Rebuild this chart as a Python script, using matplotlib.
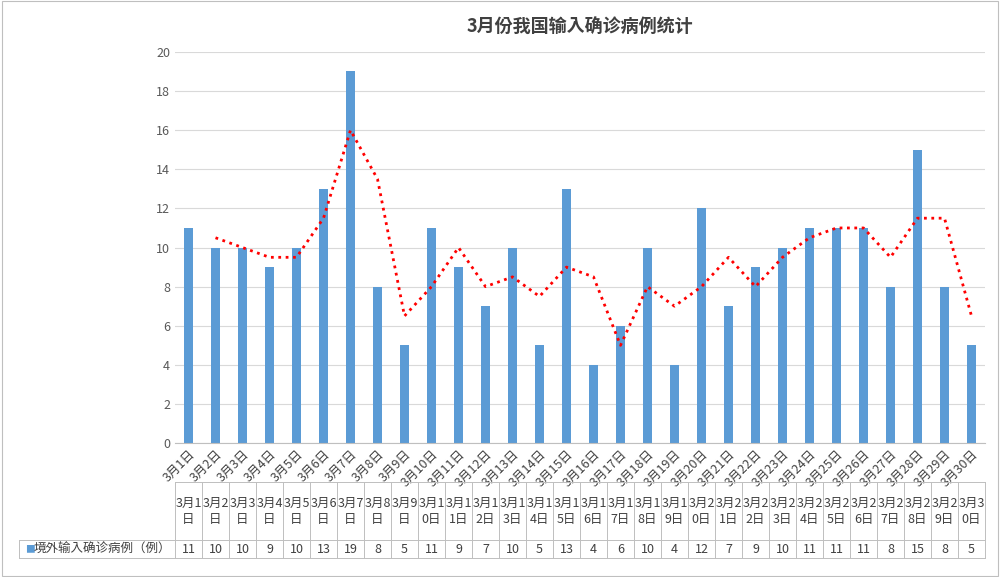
import matplotlib.pyplot as plt
import matplotlib.transforms as mtransforms
import numpy as np

plt.rcParams['font.family'] = 'sans-serif'
plt.rcParams['font.sans-serif'] = ['Noto Sans CJK JP', 'DejaVu Sans']

days = ['3月%d日' % d for d in range(1, 31)]
cases = [11, 10, 10, 9, 10, 13, 19, 8, 5, 11, 9, 7, 10, 5, 13, 4, 6, 10, 4, 12,
         7, 9, 10, 11, 11, 11, 8, 15, 8, 5]
# 2-period moving average trendline (starts at day 2)
trend = [10.5, 10, 9.5, 9.5, 11.5, 16, 13.5, 6.5, 8, 10, 8, 8.5, 7.5, 9, 8.5,
         5, 8, 7, 8, 9.5, 8, 9.5, 10.5, 11, 11, 9.5, 11.5, 11.5, 6.5]
series_name = '境外输入确诊病例（例）'
blue = '#5b9bd5'
grey = '#bfbfbf'

fig = plt.figure(figsize=(10, 5.77), dpi=100)
ax = fig.add_axes([0.175, 0.232, 0.81, 0.678])
x = np.arange(len(days))
ax.bar(x, cases, width=0.32, color=blue, zorder=2)
ax.plot(x[1:], trend, color='red', linestyle=':', linewidth=2, zorder=3)
ax.set_xlim(-0.5, len(days) - 0.5)
ax.set_ylim(0, 20)
ax.set_yticks(range(0, 21, 2))
ax.yaxis.grid(True, color='#d9d9d9', linewidth=0.8, zorder=0)
for s in ['top', 'right', 'left']:
    ax.spines[s].set_visible(False)
ax.spines['bottom'].set_color(grey)
ax.tick_params(axis='y', length=0, labelsize=9, colors='#595959')
ax.set_xticks(x)
ax.set_xticklabels(days, rotation=45, ha='right', rotation_mode='anchor',
                   fontsize=9, color='#404040')
ax.tick_params(axis='x', length=0)
ax.set_title('3月份我国输入确诊病例统计', fontsize=13, color='#404040',
             fontweight='bold', pad=14)

# data table below the axis (y in axes fraction)
tr = mtransforms.blended_transform_factory(ax.transData, ax.transAxes)
y_top, y_mid, y_bot = -0.10, -0.248, -0.294
kw = dict(transform=tr, color=grey, linewidth=0.7, clip_on=False)
for xv in np.arange(len(days) + 1) - 0.5:
    ax.plot([xv, xv], [y_top, y_bot], **kw)
ax.plot([-0.5, len(days) - 0.5], [y_top, y_top], **kw)
ax.plot([-0.5, len(days) - 0.5], [y_mid, y_mid], **kw)
ax.plot([-0.5, len(days) - 0.5], [y_bot, y_bot], **kw)
ftr = ax.transAxes
ax.plot([-0.192, 0], [y_mid, y_mid], transform=ftr, color=grey, lw=0.7, clip_on=False)
ax.plot([-0.192, 0], [y_bot, y_bot], transform=ftr, color=grey, lw=0.7, clip_on=False)
ax.plot([-0.192, -0.192], [y_mid, y_bot], transform=ftr, color=grey, lw=0.7, clip_on=False)
for i, d in enumerate(days):
    ax.text(i, (y_top + y_mid) / 2, d[:3] + '\n' + d[3:], transform=tr,
            ha='center', va='center', fontsize=9, color='#404040', linespacing=1.3)
    ax.text(i, (y_mid + y_bot) / 2, str(cases[i]), transform=tr,
            ha='center', va='center', fontsize=9, color='#404040')
ax.text(-0.185, (y_mid + y_bot) / 2, '■', transform=ftr, ha='left', va='center',
        fontsize=7, color=blue)
ax.text(-0.175, (y_mid + y_bot) / 2, series_name, transform=ftr, ha='left',
        va='center', fontsize=9, color='#404040')

fig.patches.append(plt.Rectangle((0.002, 0.002), 0.996, 0.996, transform=fig.transFigure,
                                 fill=False, edgecolor=grey, linewidth=0.8))
fig.savefig('out.png', dpi=100)
